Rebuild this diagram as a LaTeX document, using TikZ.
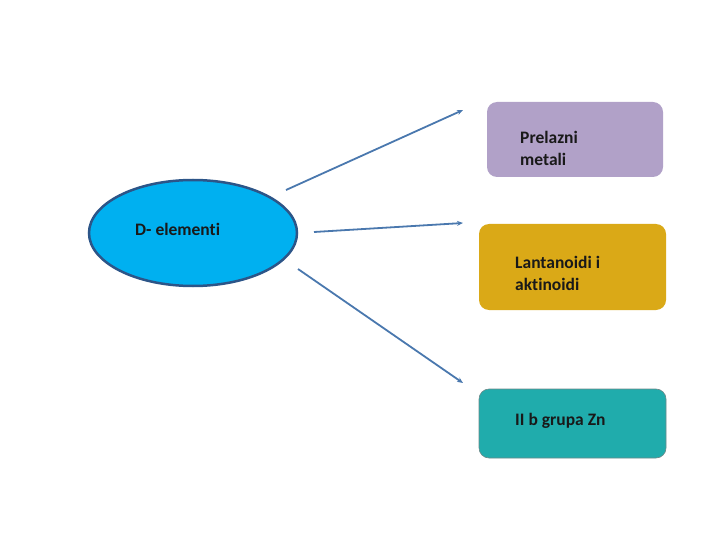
\documentclass[tikz,border=0pt]{standalone}
\usepackage{fontspec}
\setmainfont{Carlito}[Ligatures=NoCommon]
\usetikzlibrary{arrows.meta, positioning, shapes.geometric}
\definecolor{ellfill}{HTML}{00B0F0}
\definecolor{elldraw}{HTML}{2C5588}
\definecolor{boxA}{HTML}{B1A1C8}
\definecolor{boxB}{HTML}{DAA917}
\definecolor{boxC}{HTML}{20ACAC}
\definecolor{arrowc}{HTML}{4A78AE}
\tikzset{
  grpbox/.style={rectangle, rounded corners=10pt, minimum width=#1, inner sep=0pt},
  lbl/.style={anchor=west, align=left, inner sep=0pt, text=black!90, font=\bfseries\fontsize{17.5}{22}\selectfont},
  link/.style={draw=arrowc, line width=1.8pt, -{Stealth[length=6pt, width=5pt]}}
}
\begin{document}
\begin{tikzpicture}[x=1pt, y=-1pt]
        \useasboundingbox (0,0) rectangle (720,540);
        % Nodes
        \node[ellipse, fill=ellfill, draw=elldraw, line width=2.5pt, minimum width=208pt, minimum height=106pt] (D) at (193, 233) {};
        \node[lbl] (Dtxt) at (135, 229) {D- elementi};

        \node[grpbox=176pt, fill=boxA, minimum height=75pt] (pm) at (575, 139.5) {};
        \node[lbl] (pmtxt) at (520, 148.5) {Prelazni\\metali};

        \node[grpbox=187pt, fill=boxB, minimum height=86pt] (la) at (572.5, 267) {};
        \node[lbl] (latxt) at (515, 273) {Lantanoidi i\\aktinoidi};

        \node[grpbox=187pt, fill=boxC, draw=gray!80!boxC, line width=0.6pt, minimum height=69pt] (zn) at (572.5, 423.5) {};
        \node[lbl] (zntxt) at (515, 421) {II b grupa Zn};

        % Arrow ends
        \coordinate (s1) at (286, 190);
        \coordinate (e1) at (463, 110);
        \coordinate (s2) at (314, 232);
        \coordinate (e2) at (463, 223);
        \coordinate (s3) at (298, 269);
        \coordinate (e3) at (463, 383);

        % Directed edges
        \draw[link] (s1) -- (e1);
        \draw[link] (s2) -- (e2);
        \draw[link] (s3) -- (e3);
\end{tikzpicture}
\end{document}
